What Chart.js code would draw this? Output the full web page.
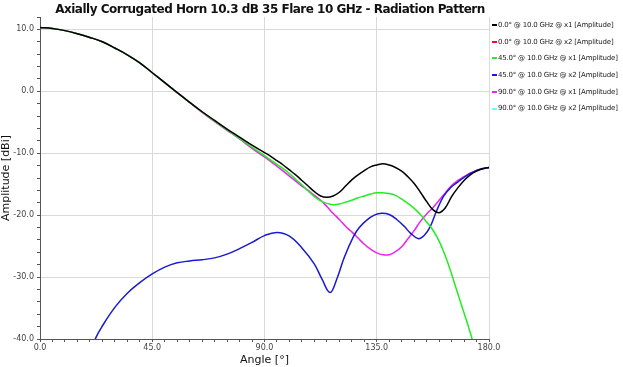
<!DOCTYPE html>
<html>
<head>
<meta charset="utf-8">
<script src="https://cdn.jsdelivr.net/npm/chart.js@4.4.0/dist/chart.umd.min.js"></script>
<style>
  body { margin: 0; background: #fff; }
  #wrap { position: relative; width: 623px; height: 367px; }
  #title {
    position: absolute; left: 0; top: 2px; width: 540px; text-align: center;
    font: bold 12px "DejaVu Sans", sans-serif; letter-spacing: -0.5px; color: #111;
  }
  #legend { position: absolute; left: 492px; top: 19px; font: 7px "DejaVu Sans", sans-serif; letter-spacing: -0.2px; color: #222; }
  #legend div { height: 16.7px; line-height: 12px; white-space: nowrap; }
  #legend span { display: inline-block; width: 5px; height: 2px; vertical-align: middle; margin-right: 1px; }
</style>
</head>
<body>
<div id="wrap">
  <div id="title">Axially Corrugated Horn 10.3 dB 35 Flare 10 GHz - Radiation Pattern</div>
  <canvas id="chart" width="623" height="367"></canvas>
  <div id="legend"></div>
</div>
<script>
// angles (deg) shared by the co-pol traces
const angles = [0, 5, 10, 15, 20, 25, 30, 35, 40, 45, 50, 55, 60, 65, 70, 75, 80, 85, 90,
  92.5, 95, 97.5, 100, 102.5, 105, 107.5, 110, 112.5, 115, 117.5, 120, 122.5, 125, 127.5,
  130, 132.5, 135, 137.5, 140, 142.5, 145, 147.5, 150, 152.5, 155, 157.5, 160, 162.5,
  165, 167.5, 170, 172.5, 175, 177.5, 180];

const phi0x1 = [10.3, 10.15, 9.8, 9.3, 8.7, 8.0, 7.0, 5.9, 4.6, 3.0, 1.4, -0.2, -1.8, -3.3, -4.7, -6.1, -7.4, -8.7, -9.9,
  -10.5, -11.2, -11.9, -12.7, -13.5, -14.4, -15.3, -16.2, -16.9, -17.1, -16.9, -16.3, -15.3, -14.3, -13.5,
  -12.8, -12.2, -11.9, -11.7, -11.9, -12.3, -12.9, -13.8, -14.9, -16.3, -17.8, -19.1, -19.6, -18.8,
  -17.0, -15.6, -14.4, -13.5, -12.9, -12.5, -12.3];

const phi0x2 = []; // below -40 dBi, not visible

const phi45x1 = [10.3, 10.15, 9.8, 9.3, 8.7, 8.0, 7.0, 5.9, 4.6, 3.0, 1.4, -0.2, -1.8, -3.3, -4.8, -6.2, -7.6, -9.0, -10.4,
  -11.1, -11.8, -12.5, -13.3, -14.2, -15.1, -16.1, -17.0, -17.7, -18.1, -18.3, -18.2, -17.9, -17.6, -17.2,
  -16.9, -16.6, -16.4, -16.4, -16.5, -16.8, -17.4, -18.1, -18.9, -19.9, -21.1, -22.4, -24.2, -26.6,
  -29.5, -32.7, -35.8, -39.0, -42.6, null, null];

// cross-pol at 45 deg has its own angle grid
const blueAngles = [20, 22.5, 25, 30, 35, 40, 45, 50, 55, 60, 65, 70, 75, 80, 85, 90, 95, 100, 105, 110,
  113, 116.3, 119, 122, 125.6, 128, 131, 134, 137, 140, 143, 146, 148.5, 151.7, 154, 156.4, 159,
  161.7, 164.5, 167, 170, 173.7, 177, 180];
const phi45x2 = [-42.5, -39.7, -37.9, -34.9, -32.6, -30.9, -29.5, -28.4, -27.7, -27.4, -27.2, -26.9, -26.3, -25.4, -24.4, -23.3, -22.8, -23.4, -25.3, -27.9,
  -30.3, -32.5, -30.3, -26.8, -23.5, -22.0, -20.8, -20.0, -19.7, -19.9, -20.7, -21.8, -22.9, -23.8, -23.3, -21.9, -19.3,
  -17.0, -15.6, -14.8, -13.9, -13.0, -12.5, -12.3];

const phi90x1 = [10.3, 10.15, 9.8, 9.3, 8.7, 8.0, 7.0, 5.9, 4.6, 3.0, 1.4, -0.2, -1.8, -3.4, -4.9, -6.3, -7.7, -9.2, -10.6,
  -11.3, -12.1, -12.9, -13.7, -14.5, -15.3, -16.0, -16.8, -17.6, -18.6, -19.7, -20.7, -21.8, -22.7, -23.7,
  -24.7, -25.5, -26.1, -26.4, -26.4, -25.9, -25.1, -23.8, -22.5, -21.0, -19.8, -18.8, -17.6, -16.4,
  -15.2, -14.4, -13.8, -13.2, -12.8, -12.5, -12.3];

const phi90x2 = []; // below -40 dBi, not visible

const seriesNames = [
  '0.0° @ 10.0 GHz @ x1 [Amplitude]',
  '0.0° @ 10.0 GHz @ x2 [Amplitude]',
  '45.0° @ 10.0 GHz @ x1 [Amplitude]',
  '45.0° @ 10.0 GHz @ x2 [Amplitude]',
  '90.0° @ 10.0 GHz @ x1 [Amplitude]',
  '90.0° @ 10.0 GHz @ x2 [Amplitude]'
];
const seriesColors = ['#000000', '#ff0033', '#22ee22', '#1a1ad0', '#ee22ee', '#66ffff'];

const xTicksMajor = 45;
const yTicksMajor = 10;

const toPts = (xs, ys) => ys.map((y, i) => ({ x: xs[i], y: y }));
const seriesData = [
  toPts(angles, phi0x1),
  toPts(angles, phi0x2),
  toPts(angles, phi45x1),
  toPts(blueAngles, phi45x2),
  toPts(angles, phi90x1),
  toPts(angles, phi90x2)
];

// html legend
const legend = document.getElementById('legend');
seriesNames.forEach((n, i) => {
  const d = document.createElement('div');
  d.innerHTML = '<span style="background:' + seriesColors[i] + '"></span>' + n;
  legend.appendChild(d);
});

const font = "'DejaVu Sans', sans-serif";

new Chart(document.getElementById('chart'), {
  type: 'line',
  data: {
    datasets: seriesNames.map((n, i) => ({
      label: n,
      data: seriesData[i],
      borderColor: seriesColors[i],
      borderWidth: 1.5,
      pointRadius: 0,
      fill: false,
      tension: 0.4
    }))
  },
  options: {
    responsive: false,
    animation: false,
    layout: { padding: { top: 17, right: 134, left: 0, bottom: 0 } },
    plugins: { legend: { display: false }, tooltip: { enabled: false } },
    scales: {
      x: {
        type: 'linear', min: 0, max: 180,
        afterFit: s => { s.height = 28; },
        ticks: {
          stepSize: 5, autoSkip: false, maxRotation: 0, padding: 1,
          font: { family: font, size: 8 }, color: '#444',
          callback: v => (v % xTicksMajor === 0 ? v.toFixed(1) : '')
        },
        grid: {
          color: c => (c.tick && c.tick.value % xTicksMajor === 0 ? '#d9d9d9' : 'rgba(0,0,0,0)'),
          tickColor: '#555', tickLength: 3
        },
        border: { color: '#555', width: 1 },
        title: { display: true, text: 'Angle [°]', font: { family: font, size: 11 }, color: '#111', padding: 0 }
      },
      y: {
        min: -40, max: 12,
        afterFit: s => { s.width = 40; },
        ticks: {
          stepSize: 2, autoSkip: false, padding: 3,
          font: { family: font, size: 8 }, color: '#444',
          callback: v => (v % yTicksMajor === 0 ? v.toFixed(1) : '')
        },
        grid: {
          color: c => (c.tick && c.tick.value % yTicksMajor === 0 && c.tick.value !== 12 ? '#d9d9d9' : 'rgba(0,0,0,0)'),
          tickColor: '#555', tickLength: 3
        },
        border: { color: '#555', width: 1 },
        title: { display: true, text: 'Amplitude [dBi]', font: { family: font, size: 11 }, color: '#111', padding: 0 }
      }
    }
  }
});
</script>
</body>
</html>
